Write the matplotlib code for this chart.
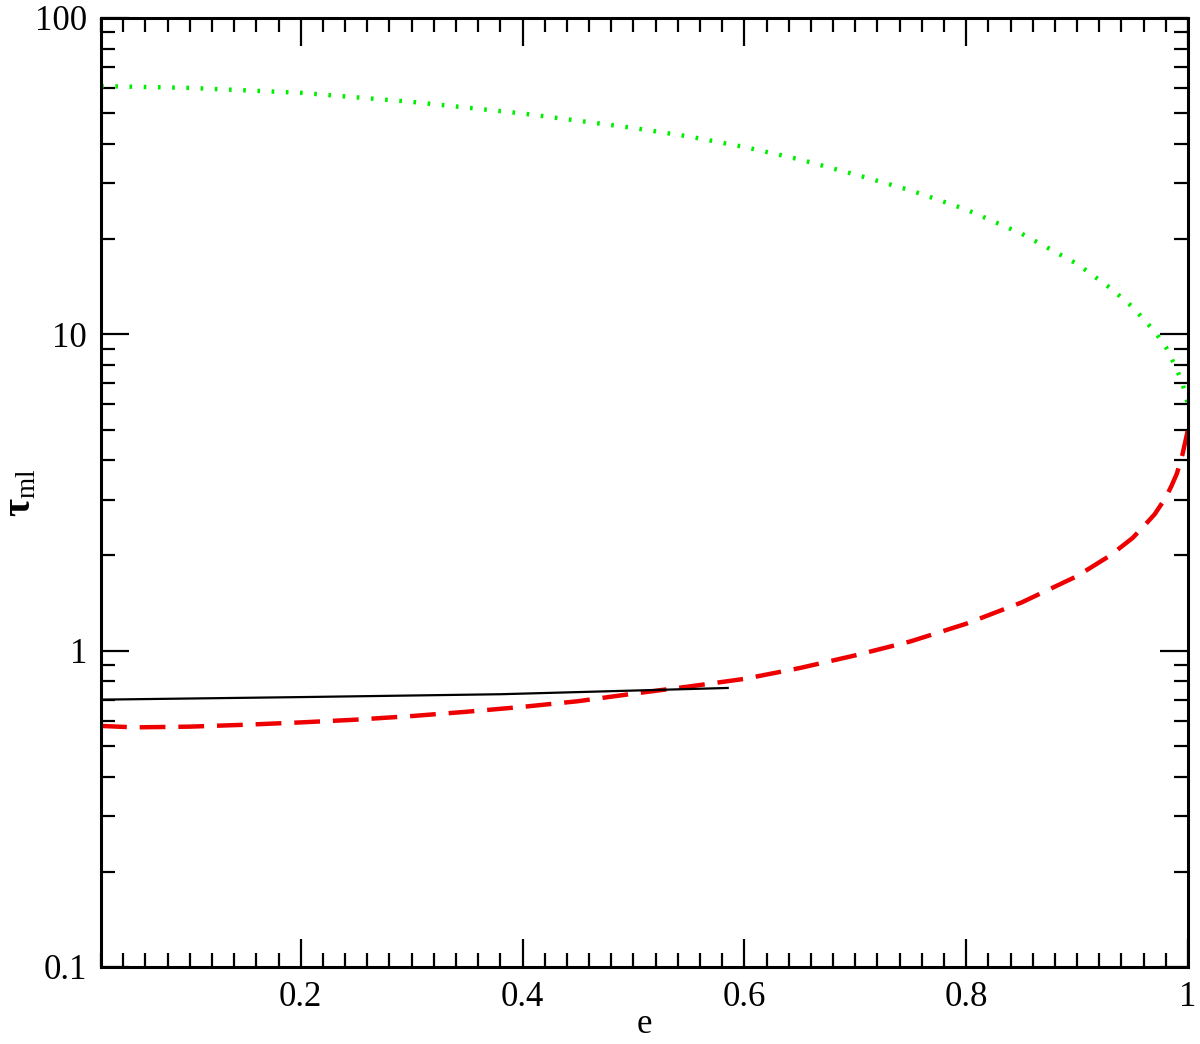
import matplotlib

matplotlib.use("Agg")
import matplotlib.pyplot as plt
from matplotlib.ticker import FixedLocator, FuncFormatter, LogLocator, MultipleLocator, NullFormatter

plt.rcParams["font.family"] = ["Liberation Serif", "DejaVu Serif"]
plt.rcParams["mathtext.fontset"] = "custom"
plt.rcParams["mathtext.rm"] = "Liberation Serif"
plt.rcParams["mathtext.it"] = "Liberation Serif:italic"
plt.rcParams["mathtext.bf"] = "Liberation Serif:bold"

# Green dotted curve
e_green = [0.02, 0.1, 0.2, 0.3, 0.4, 0.5, 0.55, 0.6, 0.65, 0.7, 0.75, 0.8, 0.85,
           0.9, 0.93, 0.95, 0.97, 0.98, 0.99, 0.995, 1.0]
tau_green = [60.9, 60.1, 58.0, 54.3, 49.9, 44.9, 42.2, 39.1, 35.7, 32.0, 28.5, 24.8, 20.8,
             16.7, 14.0, 12.2, 10.2, 9.12, 7.73, 7.0, 6.0]

# Red dashed curve
e_red = [0.02, 0.05, 0.1, 0.15, 0.2, 0.25, 0.3, 0.35, 0.4, 0.45, 0.5, 0.55, 0.6, 0.65,
         0.7, 0.75, 0.8, 0.85, 0.9, 0.93, 0.95, 0.96, 0.97, 0.98, 0.985, 0.99, 0.995, 1.0]
tau_red = [0.578, 0.572, 0.575, 0.583, 0.593, 0.605, 0.621, 0.641, 0.664, 0.692, 0.731,
           0.770, 0.814, 0.881, 0.966, 1.07, 1.216, 1.42, 1.72, 2.0, 2.27, 2.47, 2.70,
           3.05, 3.31, 3.63, 4.17, 5.0]

# Black solid line
e_black = [0.022, 0.2, 0.38, 0.585]
tau_black = [0.700, 0.713, 0.728, 0.762]

fig = plt.figure(figsize=(12, 10.44), dpi=100)
ax = fig.add_axes([0.0842, 0.0738, 0.9058, 0.909])

ax.plot(e_green, tau_green, color="#00ee00", linestyle=(0, (0.6, 2.6)), linewidth=3.2,
        dash_capstyle="butt")
ax.plot(e_red, tau_red, color="#ee0000", linestyle=(0, (5.8, 2.9)), linewidth=3.2)
ax.plot(e_black, tau_black, color="black", linewidth=1.6)

ax.set_yscale("log")
ax.set_xlim(0.02, 1.0)
ax.set_ylim(0.1, 100)

ax.xaxis.set_major_locator(FixedLocator([0.2, 0.4, 0.6, 0.8, 1.0]))
ax.xaxis.set_minor_locator(MultipleLocator(0.02))
ax.xaxis.set_major_formatter(FuncFormatter(lambda v, p: f"{v:g}"))
ax.yaxis.set_major_locator(LogLocator(base=10, numticks=10))
ax.yaxis.set_minor_locator(LogLocator(base=10, subs=range(2, 10), numticks=20))
ax.yaxis.set_minor_formatter(NullFormatter())
ax.yaxis.set_major_formatter(FuncFormatter(lambda v, p: f"{v:g}"))

ax.tick_params(which="both", direction="in", top=True, right=True, width=1.6,
               labelsize=25, colors="black")
ax.tick_params(which="major", length=20, pad=10)
ax.tick_params(which="minor", length=10)
for s in ax.spines.values():
    s.set_linewidth(2.2)

ax.set_xlabel("e", fontsize=25)
ax.xaxis.set_label_coords(0.5, -0.043)
ax.set_ylabel(r"$\mathbf{\tau}_{\rm ml}$", fontsize=28)
ax.yaxis.set_label_coords(-0.057, 0.5)

fig.savefig("out.png", dpi=100)
